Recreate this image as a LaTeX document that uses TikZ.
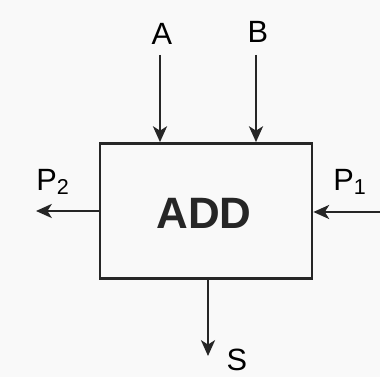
\documentclass[tikz,border=0pt]{standalone}
\usepackage{fontspec}
\setmainfont{Liberation Sans}
\usetikzlibrary{arrows.meta, positioning}

\begin{document}
\begin{tikzpicture}[x=0.02cm,y=-0.02cm, every node/.style={font=\fontsize{17.5}{20}\selectfont},
    sig/.style={-{Stealth[length=9pt,width=8pt,inset=2.5pt]}, line width=1.3pt, black!85}]
    \useasboundingbox[fill=gray!5] (0,0) rectangle (380,377);
    \node[draw, rectangle, line width=1.6pt, black!85, minimum width=4.24cm, minimum height=2.7cm] (add) at (206,211) {};
    \node[font=\bfseries\fontsize{25}{28}\selectfont, black!85] (lbl) at (204,213) {ADD};
    \coordinate (a0) at (160,55);
    \coordinate (b0) at (256,55);
    \coordinate (p1in) at (380,212);
    \coordinate (p2out) at (36,211);
    \coordinate (sout) at (208,356);
    \node (a) at (162,34) {A};
    \node (b) at (258,32) {B};
    \node (p2) at (53,182) {P\textsubscript{2}};
    \node (p1) at (350,182) {P\textsubscript{1}};
    \node (s) at (237,360) {S};
    \draw[sig] (a0) -- (add.north -| a0);
    \draw[sig] (b0) -- (add.north -| b0);
    \draw[sig] (p1in) -- (add.east |- p1in);
    \draw[sig] (add.west |- p2out) -- (p2out);
    \draw[sig] (add.south -| sout) -- (sout);
\end{tikzpicture}
\end{document}
